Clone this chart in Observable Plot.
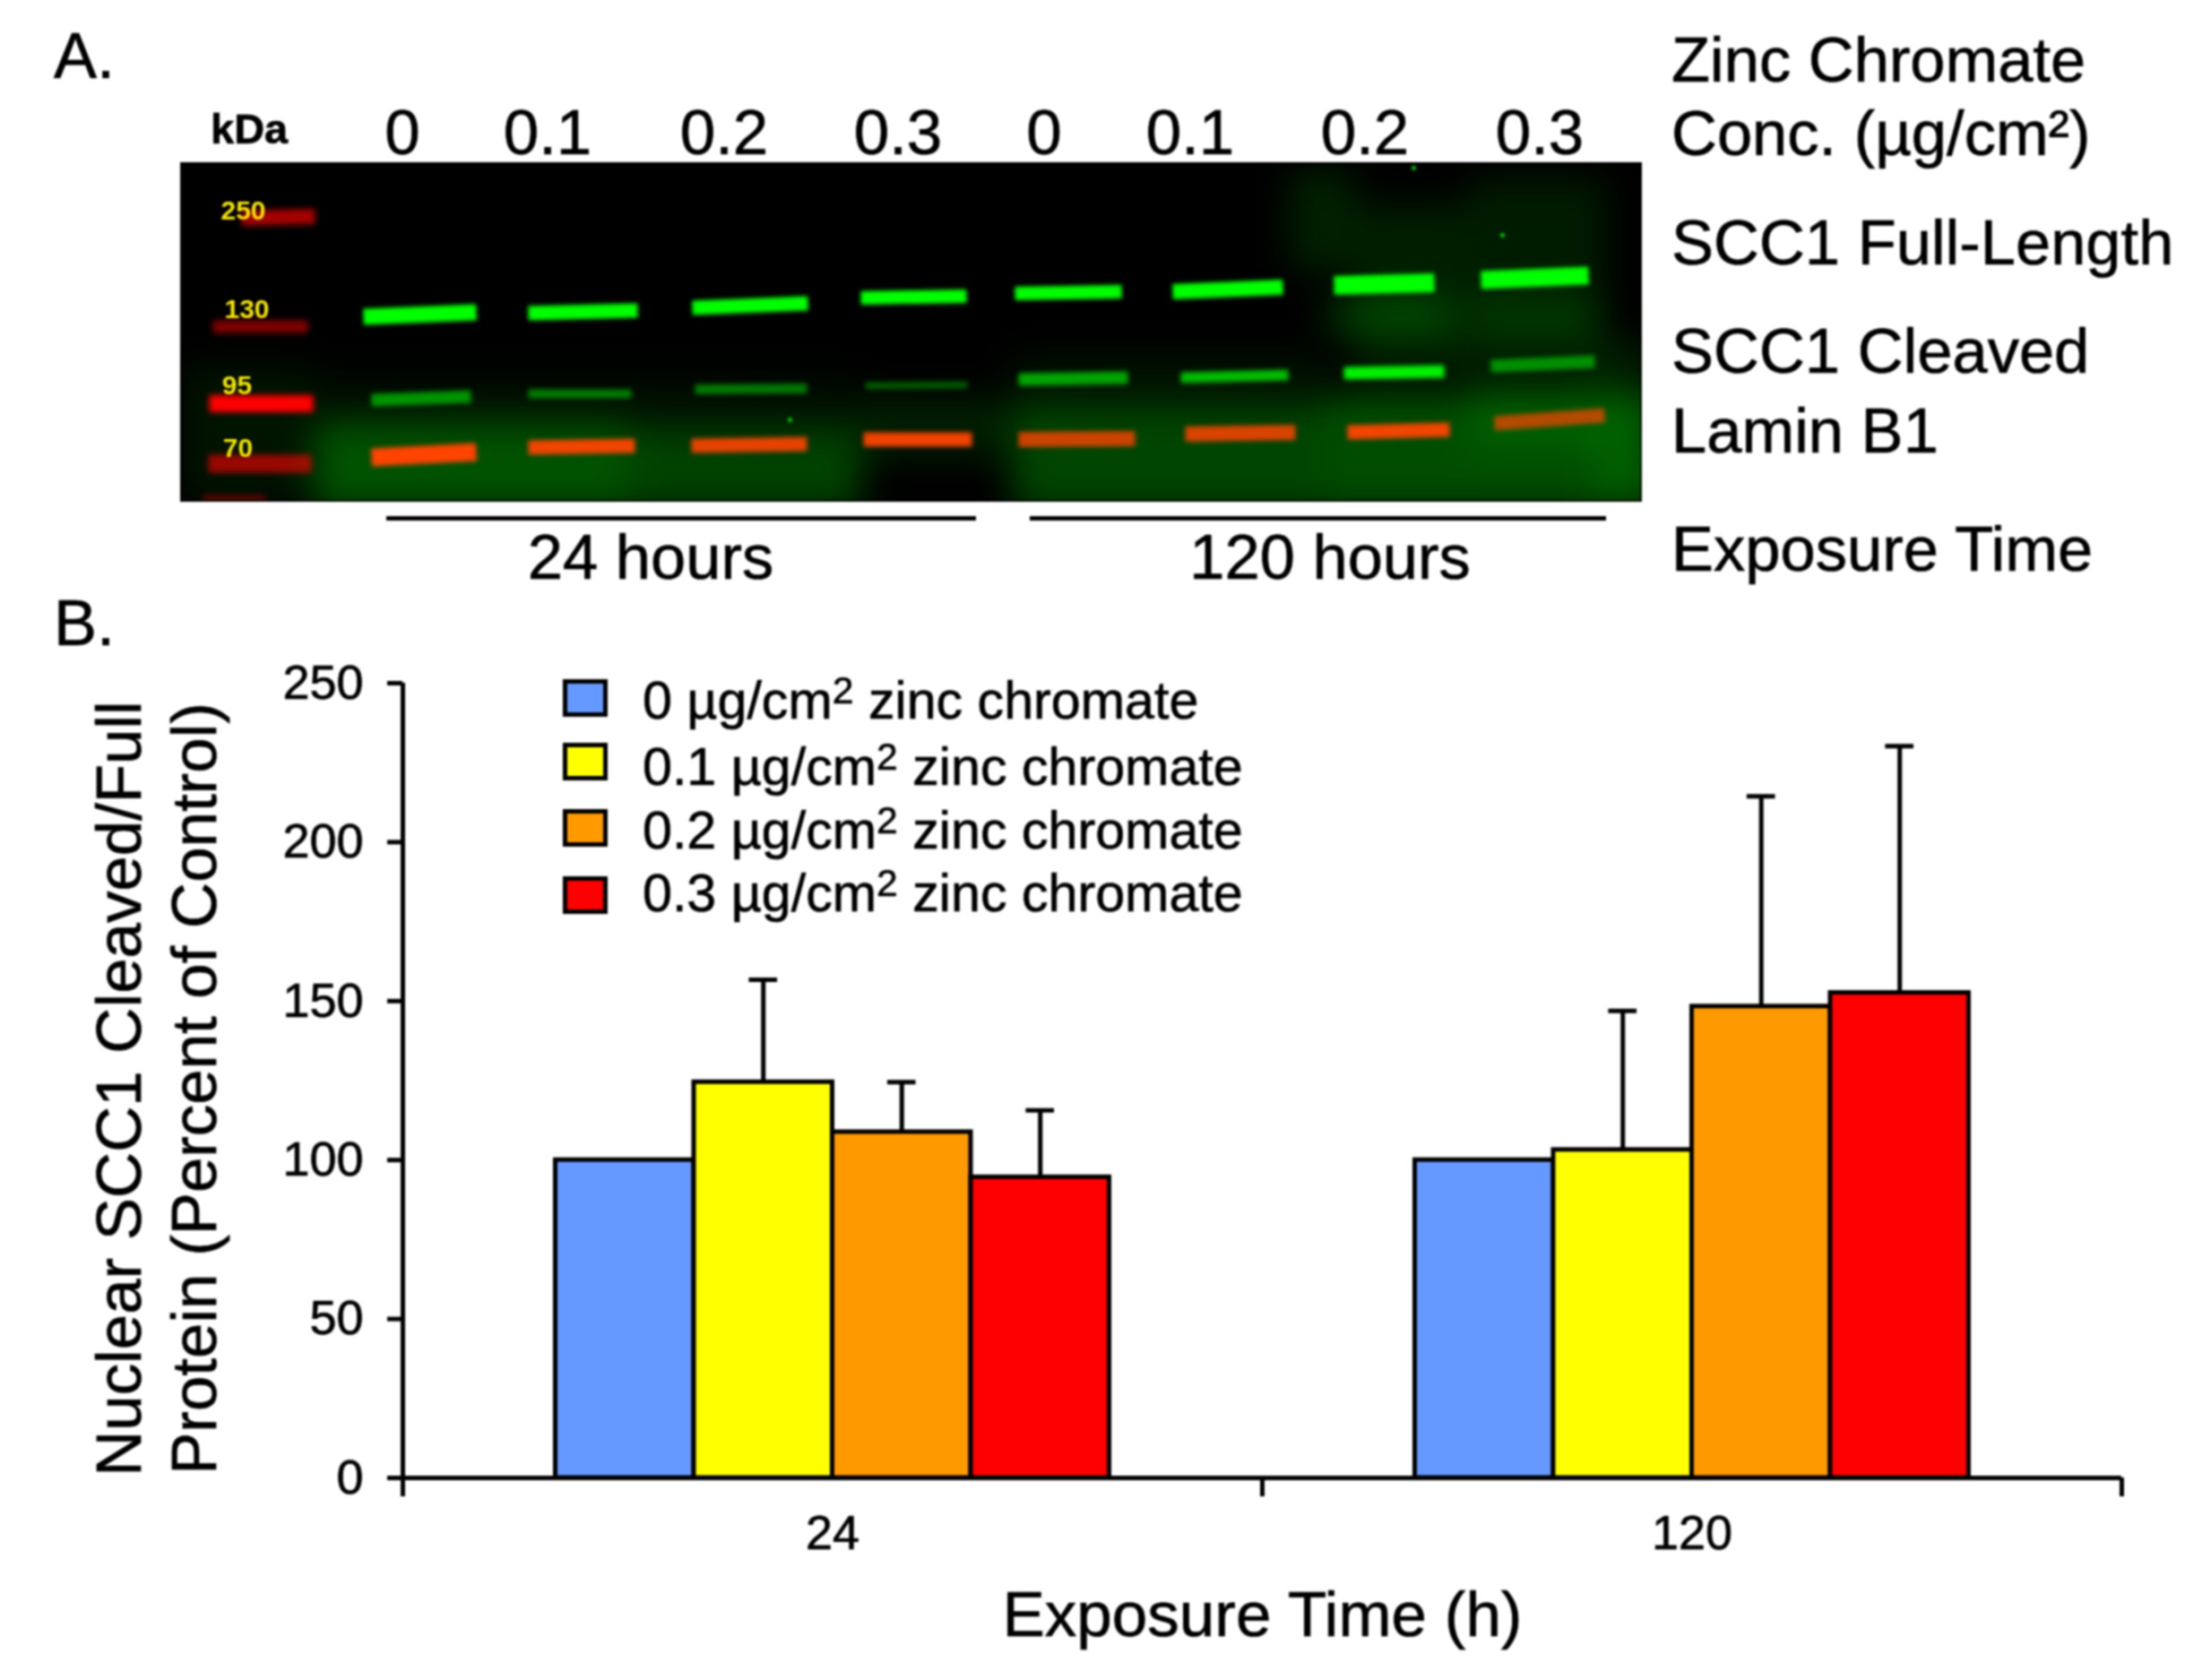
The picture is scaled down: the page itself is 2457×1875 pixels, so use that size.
<!DOCTYPE html>
<html>
<head>
<meta charset="utf-8">
<script src="https://cdn.jsdelivr.net/npm/d3@7"></script>
<script src="https://cdn.jsdelivr.net/npm/@observablehq/plot@0.6"></script>
<style>
  html, body { margin: 0; padding: 0; background: #fff; }
  #page { position: relative; width: 2457px; height: 1875px; overflow: hidden; background: #fff;
          font-family: "Liberation Sans", Arial, sans-serif; color: #000; filter: blur(0.8px); }
  #page > svg, #page > div { position: absolute; }
  .lbl { line-height: 1; white-space: pre; -webkit-text-stroke: 0.7px #000; }
  #chart text { stroke: #000; stroke-width: 0.7px; }
  .swatch { box-sizing: border-box; border: 5px solid #000; }
  sup { font-size: 0.72em; line-height: 0; vertical-align: baseline; position: relative; top: -0.4em; }
</style>
</head>
<body>
<div id="page"></div>
<script>
// ---------- Panel B values ----------
const exposureHours = ["24", "120"];
const doseLevels = ["0", "0.1", "0.2", "0.3"];
const doseColors = ["#6699ff", "#ffff00", "#ff9900", "#ff0000"];
const means24 = [100, 124.5, 108.8, 94.6];
const means120 = [100, 103.2, 148.3, 152.6];
const errors24 = [0, 32.2, 15.7, 21.0];
const errors120 = [0, 43.7, 66.1, 77.6];
const yTicks = [0, 50, 100, 150, 200, 250];
const yTitle = "Nuclear SCC1 Cleaved/Full\nProtein (Percent of Control)";
const xTitle = "Exposure Time (h)";

// ---------- Panel A values: band position read from the blot (gel pixels) ----------
// each row: left edge, right edge, height at left, height at right, brightness, band thickness
const fullLengthBands = [
  [405, 531, 353, 348, 1, 18], [589, 711, 349, 346, 1, 16], [772, 901, 343, 338, 1, 16], [960, 1078, 332, 330, 1, 15],
  [1132, 1251, 327, 325, 1, 15], [1308, 1431, 325, 320, 1, 17], [1488, 1600, 318, 315, 1, 21], [1652, 1772, 312, 307, 1, 20]
];
const cleavedBands = [
  [414, 525, 446, 442, .55, 14], [589, 704, 439, 439, .45, 10], [775, 900, 434, 433, .45, 11], [965, 1079, 430, 429, .33, 8],
  [1136, 1258, 423, 421, .62, 14], [1317, 1437, 421, 418, .72, 12], [1499, 1611, 416, 414, .95, 14], [1663, 1779, 408, 403, .5, 14]
];
const laminBands = [
  [414, 531, 510, 504, 1, 20], [589, 708, 499, 497, .95, 16], [771, 900, 497, 495, .9, 16], [963, 1084, 490, 490, .95, 16],
  [1136, 1266, 490, 489, .8, 17], [1322, 1445, 484, 482, .85, 17], [1503, 1617, 482, 479, .95, 16], [1667, 1790, 472, 463, .7, 16]
];
const ladderBands = [
  [269, 351, 243, 241, .65, 17], [237, 343, 364, 364, .5, 14], [233, 349, 450, 450, 1, 19], [232, 347, 517, 517, .6, 20], [226, 296, 556, 556, .35, 8]
];
const ladderKda = ["250", "130", "95", "70"];
const ladderLabelX = [271, 275, 264, 265];
const ladderLabelY = [244, 354, 439, 509];
// background glow on the membrane: x1, y1, x2, y2, brightness
const membraneGlow = [
  [205, 410, 350, 558, .08], [350, 470, 700, 570, .32], [700, 475, 960, 570, .26], [350, 425, 960, 470, .06], [960, 445, 1130, 510, .12],
  [1130, 450, 1480, 570, .27], [1480, 440, 1850, 570, .3], [1130, 400, 1480, 440, .08],
  [1440, 190, 1510, 300, .13], [1510, 230, 1640, 420, .12], [1640, 200, 1790, 500, .11],
  [1480, 335, 1620, 370, .22], [1640, 330, 1780, 380, .12], [1780, 380, 1850, 558, .1]
];
const specks = [[881, 468], [1676, 262], [1577, 187]];

// ---------- Labels ----------
const laneLabels = ["0", "0.1", "0.2", "0.3", "0", "0.1", "0.2", "0.3"];
const laneLabelX = [449, 611, 808, 1002, 1165, 1328, 1523, 1718];
const rightLabels = ["Zinc Chromate", "Conc. (µg/cm²)", "SCC1 Full-Length", "SCC1 Cleaved", "Lamin B1", "Exposure Time"];
const rightLabelBase = [92, 174, 296, 417, 506, 638];

const page = document.getElementById("page");
const FONT = '"Liberation Sans", Arial, sans-serif';

function label(html, x, baseline, size, anchor = "start", weight = "normal") {
  const d = document.createElement("div");
  d.className = "lbl";
  d.innerHTML = html;
  d.style.left = x + "px";
  d.style.top = (baseline - 0.8465 * size) + "px";
  d.style.fontSize = size + "px";
  d.style.fontWeight = weight;
  if (anchor === "middle") d.style.transform = "translateX(-50%)";
  page.appendChild(d);
}

// ---------- Panel A ----------
const bandRows = (rows) => rows.map(([x1, x2, y1, y2, v, t]) => ({x1, x2, y1, y2, v, t}));
const bandMark = (rows, stroke, blur) => Plot.link(bandRows(rows), {
  x1: "x1", x2: "x2", y1: "y1", y2: "y2", stroke, strokeOpacity: "v", strokeWidth: "t",
  strokeLinecap: "butt", imageFilter: `blur(${blur}px)`
});
const blot = Plot.plot({
  width: 1631, height: 379,
  margin: 0,
  x: {domain: [201, 1832], axis: null},
  y: {domain: [560, 181], range: [379, 0], axis: null},
  style: {background: "#000", fontFamily: FONT},
  marks: [
    Plot.rect(membraneGlow.map(([x1, y1, x2, y2, v]) => ({x1, y1, x2, y2, v})), {
      x1: "x1", x2: "x2", y1: "y1", y2: "y2", fill: "#00ff00", fillOpacity: "v", imageFilter: "blur(20px)"
    }),
    bandMark(ladderBands, "#ff0000", 3),
    bandMark(cleavedBands, "#00ff00", 2.5),
    bandMark(fullLengthBands, "#00ff00", 2),
    bandMark(laminBands, "#ff4400", 2.5),
    Plot.dot(specks, {x: "0", y: "1", r: 2.5, fill: "#00cc00", imageFilter: "blur(1px)"}),
    Plot.text(ladderKda, {
      x: (d, i) => ladderLabelX[i], y: (d, i) => ladderLabelY[i], text: d => d,
      fill: "#f4e400", fontSize: 30, fontWeight: "bold", lineAnchor: "bottom"
    }),
    Plot.frame({stroke: "#000", strokeWidth: 4})
  ]
});
blot.style.left = "201px";
blot.style.top = "181px";
page.appendChild(blot);

label("A.", 60, 87, 72);
label("kDa", 235, 160, 47, "start", "bold");
laneLabels.forEach((t, i) => label(t, laneLabelX[i], 172, 71, "middle"));
rightLabels.forEach((t, i) => label(t, 1865, rightLabelBase[i], 70.5));
label("24 hours", 726, 647, 70.5, "middle");
label("120 hours", 1484, 647, 70.5, "middle");
for (const [l, w] of [[431, 658], [1149, 643]]) {
  const r = document.createElement("div");
  r.style.cssText = `left:${l}px;top:576px;width:${w}px;height:5px;background:#000`;
  page.appendChild(r);
}
label("B.", 60, 720, 72);

// ---------- Panel B ----------
const barWidth = 0.1611;
const barRows = exposureHours.flatMap((h, g) => {
  const means = g === 0 ? means24 : means120;
  const errs = g === 0 ? errors24 : errors120;
  return doseLevels.map((dose, i) => {
    const x1 = g + 0.5 + (i - 2) * barWidth;
    return {dose, x1, x2: x1 + barWidth, xc: x1 + barWidth / 2, mean: means[i], upper: means[i] + errs[i], err: errs[i]};
  });
});
const errorRows = barRows.filter(d => d.err > 0);
const capHalf = 0.0165;

const chart = Plot.plot({
  width: 2457, height: 1155,
  marginLeft: 449, marginRight: 90, marginTop: 42, marginBottom: 226,
  x: {domain: [0, 2], axis: null},
  y: {domain: [0, 250], axis: null},
  color: {domain: doseLevels, range: doseColors},
  style: {fontFamily: FONT, color: "#000", background: "transparent"},
  marks: [
    Plot.ruleX(errorRows, {x: "xc", y1: "mean", y2: "upper", stroke: "#000", strokeWidth: 5}),
    Plot.ruleY(errorRows, {y: "upper", x1: d => d.xc - capHalf, x2: d => d.xc + capHalf, stroke: "#000", strokeWidth: 5}),
    Plot.rectY(barRows, {x1: "x1", x2: "x2", y1: 0, y2: "mean", fill: "dose", stroke: "#000", strokeWidth: 5}),
    Plot.ruleX([0], {y1: 0, y2: 250, stroke: "#000", strokeWidth: 5}),
    Plot.ruleY([0], {stroke: "#000", strokeWidth: 5}),
    Plot.axisY({ticks: yTicks, tickSize: 17, tickPadding: 27, strokeWidth: 5, fontSize: 54, label: null, tickFormat: d => String(d)}),
    Plot.axisX({ticks: [0, 1, 2], tickSize: 21, strokeWidth: 5, tickFormat: () => "", label: null}),
    Plot.axisX({ticks: [0.5, 1.5], tickSize: 0, tickPadding: 41, fontSize: 54, label: null, tickFormat: d => exposureHours[d - 0.5]}),
    Plot.text([xTitle], {text: d => d, frameAnchor: "bottom", dy: 176, lineAnchor: "bottom", fontSize: 71}),
    Plot.text([yTitle], {text: d => d, frameAnchor: "left", textAnchor: "middle", dx: -277, dy: 9, rotate: -90, fontSize: 70.8, lineHeight: 1.18})
  ]
});
chart.id = "chart";
chart.style.left = "0px";
chart.style.top = "720px";
page.appendChild(chart);

// ---------- Legend ----------
const swatchTop = [758, 829, 903, 978];
const legendBase = [802, 876, 947, 1017];
doseLevels.forEach((d, i) => {
  const s = document.createElement("div");
  s.className = "swatch";
  s.style.cssText = `left:628px;top:${swatchTop[i]}px;width:50px;height:42px;background:${doseColors[i]}`;
  page.appendChild(s);
  label(`${d} µg/cm<sup>2</sup> zinc chromate`, 717, legendBase[i], 59.2);
});
</script>
</body>
</html>
